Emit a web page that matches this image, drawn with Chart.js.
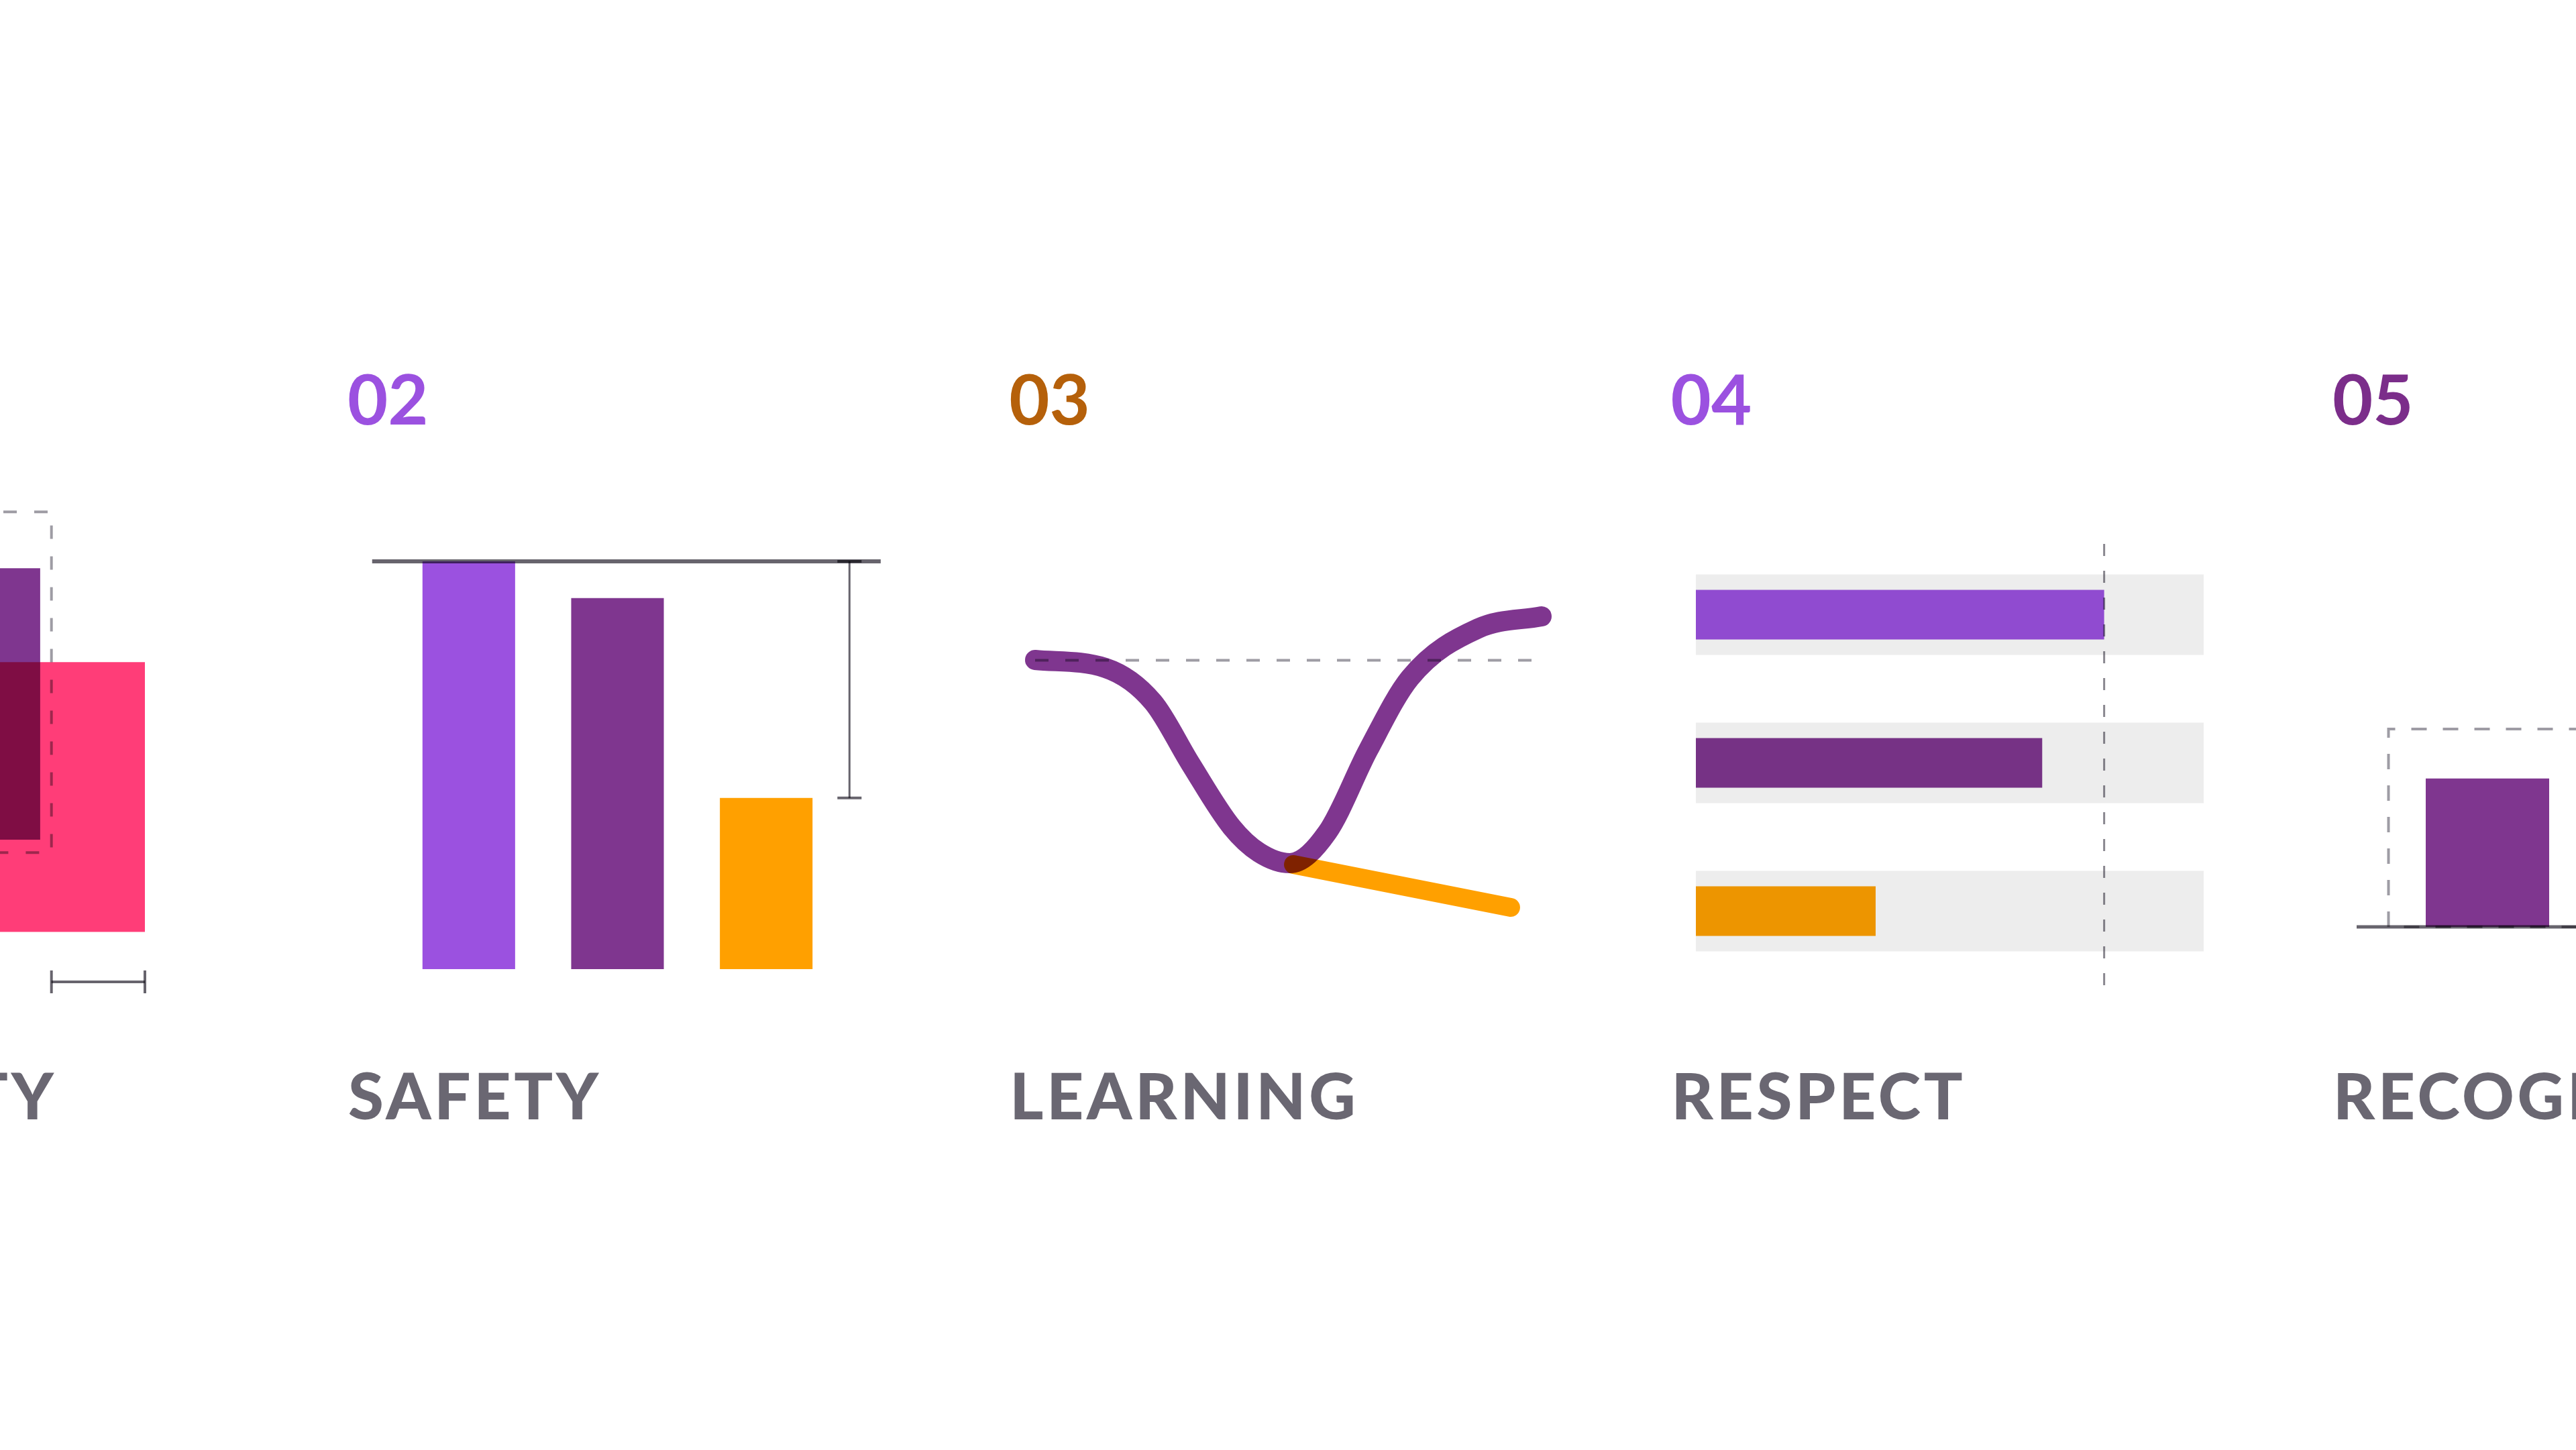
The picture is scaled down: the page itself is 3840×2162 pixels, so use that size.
<!DOCTYPE html>
<html>
<head>
<meta charset="utf-8">
<script src="https://cdn.jsdelivr.net/npm/chart.js@4.4.1/dist/chart.umd.min.js"></script>
<style>
  html, body { margin: 0; padding: 0; background: #fff; }
  body { width: 3840px; height: 2162px; overflow: hidden; position: relative; }
  .box { position: absolute; }
  .num { position: absolute; font-family: Lato, sans-serif; font-size: 104px; line-height: 1; font-weight: 700; white-space: nowrap; }
  .lbl { position: absolute; font-family: Lato, sans-serif; font-size: 96px; line-height: 1; font-weight: 900; color: #6a6772; white-space: nowrap; }
</style>
</head>
<body>
<script>
// colours
const purple = '#9b51e0', plum = '#7f368f', amber = '#ffa000', pink = '#ff3d78';
const ruleGrey = '#67646d', dashGrey = '#9e9ca4', track = '#ededed';

// headings
const panelNums = ['01', '02', '03', '04', '05'];
const panelNames = ['DIVERSITY', 'SAFETY', 'LEARNING', 'RESPECT', 'RECOGNITION'];
const numColors = [plum, purple, '#b5600a', purple, '#7b2d8a'];

// 01 - overlapping areas
const pinkX = [30, 88], pinkY = [13.8, 64.1];
const plumX = [46, 65.7], plumY = [31, 81.6];
const frameX = [25, 68.1], frameY = [28.6, 92.1];
const spanX = [68.1, 88], spanY = 4.5;

// 02 - safety
const safetyCats = ['A', 'B', 'C'];
const safetyVals = [100, 91, 42];
const safetyRuleX = [-0.65, 2.77];
const safetyGapX = 2.56;

// 03 - learning
const learnX = [0, 13.9, 23.3, 30.7, 38.8, 44.2, 50.3, 57.7, 65.8, 74, 87.5, 100];
const learnY = [83.2, 80.8, 70.6, 52.2, 33.4, 25.8, 22.6, 31.8, 56.4, 77.8, 92.6, 96.2];
const branchX = [51, 93.9], branchY = [22.2, 9.4];
const learnRef = 83.1;

// 04 - respect
const respectCats = ['A', 'B', 'C'];
const respectVals = [80.4, 68.2, 35.4];
const respectMax = 100;

// 05 - recognition
const recogCats = ['A', 'B'];
const recogVals = [75, 55];
const recogTarget = 100;
const recogFrameX = [-0.59, 1.8];
const recogBaseX = [-0.78, 2];

const barCols = [purple, plum, amber];

// everything is blended like ink on paper
const multiply = {
  id: 'multiply',
  beforeDatasetsDraw(chart) { chart.ctx.save(); chart.ctx.globalCompositeOperation = 'multiply'; },
  afterDatasetsDraw(chart) { chart.ctx.restore(); }
};

const hidden = (extra) => Object.assign({ display: false, offset: false }, extra);
const pts = (xs, ys) => xs.map((x, i) => ({ x, y: ys[i] }));

function panel(area, pad, config) {
  const div = document.createElement('div');
  div.className = 'box';
  div.style.left = (area[0] - pad) + 'px';
  div.style.top = (area[1] - pad) + 'px';
  div.style.width = (area[2] - area[0] + 2 * pad) + 'px';
  div.style.height = (area[3] - area[1] + 2 * pad) + 'px';
  const cv = document.createElement('canvas');
  div.appendChild(cv);
  document.body.appendChild(div);
  config.options = Object.assign({
    responsive: true,
    maintainAspectRatio: false,
    animation: false,
    layout: { padding: pad, autoPadding: false },
    plugins: { legend: { display: false }, tooltip: { enabled: false } }
  }, config.options);
  config.plugins = [multiply];
  return new Chart(cv, config);
}

function lineSet(data, color, width, extra) {
  return Object.assign({
    type: 'line', data, borderColor: color, borderWidth: width,
    pointRadius: 0, fill: false, clip: false, tension: 0
  }, extra);
}

// headings and names; letter spacing fitted to the widths of the visible names
const meas = document.createElement('canvas').getContext('2d');
meas.font = '900 96px Lato';
const targets = { SAFETY: 368, LEARNING: 509, RESPECT: 446 };
let inkSum = 0, gapSum = 0;
for (const w in targets) {
  inkSum += targets[w] - meas.measureText(w).width;
  gapSum += w.length - 1;
}
const spacing = inkSum / gapSum;

panelNums.forEach((t, i) => {
  const d = document.createElement('div');
  d.className = 'num';
  d.textContent = t;
  d.style.color = numColors[i];
  d.style.left = (518 + (i - 1) * 986.3) + 'px';
  d.style.top = '541px';
  document.body.appendChild(d);
});
panelNames.forEach((t, i) => {
  const d = document.createElement('div');
  d.className = 'lbl';
  d.textContent = t;
  d.style.letterSpacing = spacing + 'px';
  if (i === 0) {
    d.style.right = (3840 - 80 - spacing) + 'px';
  } else {
    d.style.left = (519 + (i - 1) * 986.3) + 'px';
  }
  d.style.top = '1584px';
  document.body.appendChild(d);
});

// 01
panel([-400, 700, 300, 1500], 60, {
  type: 'line',
  data: {
    datasets: [
      lineSet(pts(spanX, [spanY, spanY]), ruleGrey, 4, {
        order: 0, pointStyle: 'line', pointRadius: 17, pointRotation: 90,
        pointBorderWidth: 4, pointBorderColor: ruleGrey
      }),
      lineSet(pts([frameX[0], frameX[1], frameX[1], frameX[0], frameX[0]],
                  [frameY[1], frameY[1], frameY[0], frameY[0], frameY[1]]),
              dashGrey, 4, { order: 1, borderDash: [20, 26] }),
      lineSet(pts(plumX, [plumY[1], plumY[1]]), 'rgba(0,0,0,0)', 0,
              { order: 2, fill: { value: plumY[0] }, backgroundColor: plum }),
      lineSet(pts(pinkX, [pinkY[1], pinkY[1]]), 'rgba(0,0,0,0)', 0,
              { order: 3, fill: { value: pinkY[0] }, backgroundColor: pink })
    ]
  },
  options: {
    scales: {
      x: hidden({ type: 'linear', min: 0, max: 100 }),
      y: hidden({ type: 'linear', min: 0, max: 100 })
    }
  }
});

// 02
panel([588, 837, 1253, 1445], 80, {
  type: 'bar',
  data: {
    labels: safetyCats,
    datasets: [
      lineSet(pts(safetyRuleX, [safetyVals[0], safetyVals[0]]), ruleGrey, 6,
              { order: 0, xAxisID: 'x2' }),
      lineSet(pts([safetyGapX, safetyGapX], [safetyVals[0], safetyVals[2]]), ruleGrey, 3, {
        order: 0, xAxisID: 'x2', pointStyle: 'line', pointRadius: 18,
        pointBorderWidth: 4, pointBorderColor: ruleGrey
      }),
      {
        order: 1, data: safetyVals, backgroundColor: barCols, grouped: false,
        barPercentage: 1, categoryPercentage: 0.623
      }
    ]
  },
  options: {
    scales: {
      x: hidden({ type: 'category', offset: true }),
      x2: hidden({ type: 'linear', min: -0.5, max: safetyCats.length - 0.5 }),
      y: hidden({ type: 'linear', min: 0, max: 100 })
    }
  }
});

// 03
panel([1543, 900, 2298, 1400], 40, {
  type: 'line',
  data: {
    datasets: [
      lineSet(pts(branchX, branchY), amber, 28, { order: 0, borderCapStyle: 'round' }),
      lineSet(pts(learnX, learnY), plum, 30, {
        order: 1, borderCapStyle: 'round', borderJoinStyle: 'round',
        cubicInterpolationMode: 'monotone'
      }),
      lineSet(pts([0, 100], [learnRef, learnRef]), dashGrey, 4,
              { order: 2, borderDash: [20, 25] })
    ]
  },
  options: {
    scales: {
      x: hidden({ type: 'linear', min: 0, max: 100 }),
      y: hidden({ type: 'linear', min: 0, max: 100 })
    }
  }
});

// 04
panel([2528, 805.5, 3285, 1468.5], 20, {
  type: 'bar',
  data: {
    labels: respectCats,
    datasets: [
      lineSet(pts([respectVals[0], respectVals[0]], [0, 1]), '#8a8890', 3,
              { order: 0, yAxisID: 'y2', borderDash: [18, 22] }),
      {
        order: 1, indexAxis: 'y', data: respectVals, backgroundColor: barCols,
        grouped: false, barPercentage: 0.335, categoryPercentage: 1
      },
      {
        order: 2, indexAxis: 'y', data: respectCats.map(() => respectMax), backgroundColor: track,
        grouped: false, barPercentage: 0.543, categoryPercentage: 1
      }
    ]
  },
  options: {
    scales: {
      x: hidden({ type: 'linear', min: 0, max: respectMax }),
      y: hidden({ type: 'category', offset: true }),
      y2: hidden({ type: 'linear', min: 0, max: 1 })
    }
  }
});

// 05
panel([3583, 1087, 4083, 1382], 100, {
  type: 'bar',
  data: {
    labels: recogCats,
    datasets: [
      lineSet(pts(recogBaseX, [0, 0]), ruleGrey, 5, { order: 0, xAxisID: 'x2' }),
      lineSet(pts([recogFrameX[0], recogFrameX[0], recogFrameX[1], recogFrameX[1], recogFrameX[0]],
                  [0, recogTarget, recogTarget, 0, 0]),
              dashGrey, 4, { order: 1, xAxisID: 'x2', borderDash: [23, 24] }),
      {
        order: 2, data: recogVals, backgroundColor: plum, grouped: false,
        barPercentage: 1, categoryPercentage: 0.736
      }
    ]
  },
  options: {
    scales: {
      x: hidden({ type: 'category', offset: true }),
      x2: hidden({ type: 'linear', min: -0.5, max: recogCats.length - 0.5 }),
      y: hidden({ type: 'linear', min: 0, max: 100 })
    }
  }
});
</script>
</body>
</html>
